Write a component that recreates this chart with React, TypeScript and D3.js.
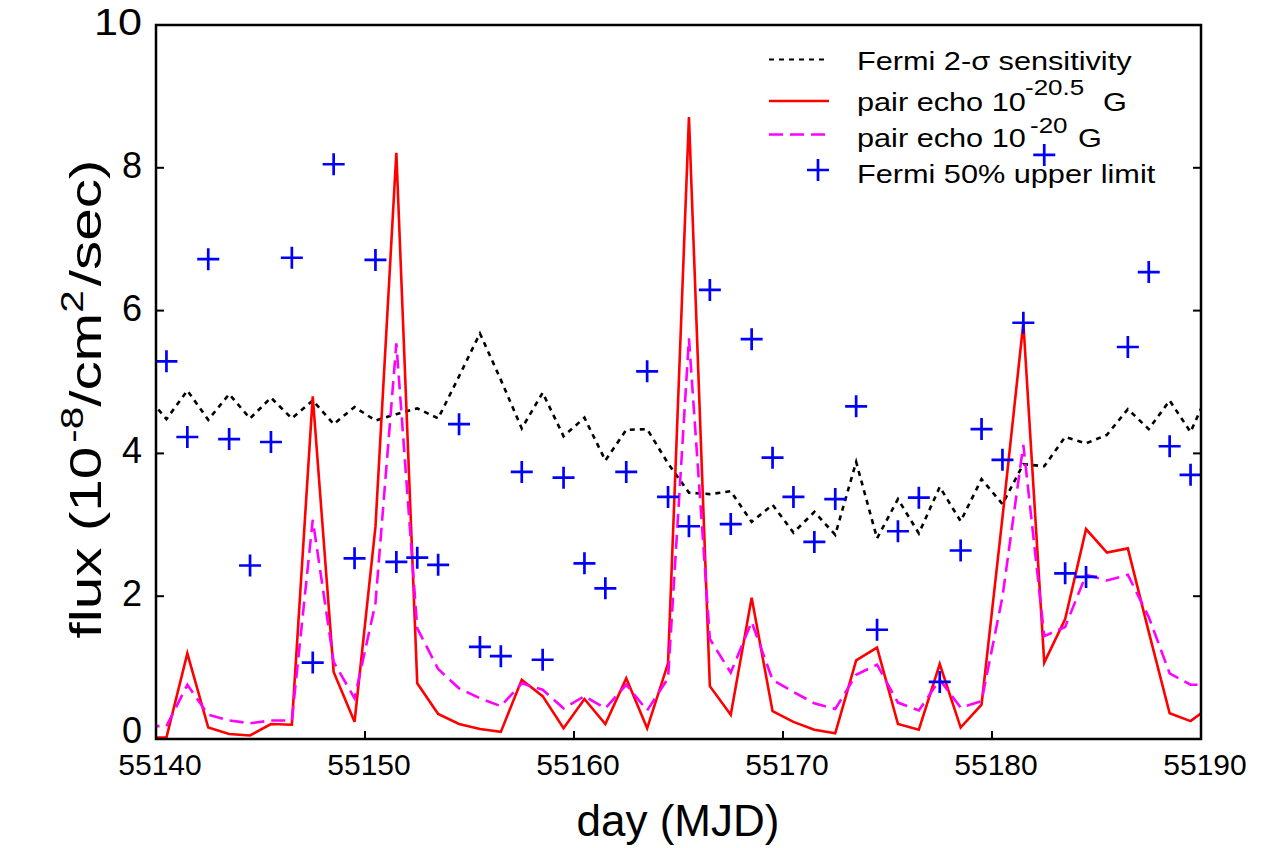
import React from "react";
import * as d3 from "d3";

// half-day bins (MJD)
const days = [
  55139.5, 55140.5, 55141.5, 55142.5, 55143.5, 55144.5, 55145.5, 55146.5, 55147.5, 55148.5,
  55149.5, 55150.5, 55151.5, 55152.5, 55153.5, 55154.5, 55155.5, 55156.5, 55157.5, 55158.5,
  55159.5, 55160.5, 55161.5, 55162.5, 55163.5, 55164.5, 55165.5, 55166.5, 55167.5, 55168.5,
  55169.5, 55170.5, 55171.5, 55172.5, 55173.5, 55174.5, 55175.5, 55176.5, 55177.5, 55178.5,
  55179.5, 55180.5, 55181.5, 55182.5, 55183.5, 55184.5, 55185.5, 55186.5, 55187.5, 55188.5,
  55189.5, 55190.5,
];

// Fermi 2-sigma sensitivity
const sensitivity = [
  4.83, 4.48, 4.88, 4.47, 4.83, 4.49, 4.78, 4.49, 4.74, 4.41,
  4.65, 4.46, 4.55, 4.63, 4.49, 5.08, 5.68, 5.03, 4.35, 4.85,
  4.24, 4.5, 3.9, 4.33, 4.34, 3.86, 3.45, 3.43, 3.47, 3.04,
  3.28, 2.89, 3.18, 2.86, 3.88, 2.81, 3.36, 2.88, 3.53, 3.05,
  3.64, 3.29, 3.85, 3.82, 4.23, 4.14, 4.26, 4.62, 4.34, 4.74,
  4.3, 4.95,
];

// pair echo B = 10^-20.5 G
const echo205 = [
  0.02, 0.02, 1.2, 0.16, 0.07, 0.05, 0.21, 0.2, 4.8, 0.94,
  0.24, 2.97, 8.21, 0.78, 0.35, 0.21, 0.14, 0.1, 0.83, 0.6,
  0.15, 0.56, 0.21, 0.85, 0.15, 1.06, 8.71, 0.74, 0.34, 1.98,
  0.39, 0.24, 0.13, 0.08, 1.1, 1.28, 0.21, 0.13, 1.05, 0.16,
  0.48, 3.1, 5.83, 1.07, 1.68, 2.94, 2.61, 2.67, 1.5, 0.36,
  0.25, 0.47,
];

// pair echo B = 10^-20 G
const echo20 = [
  0.18, 0.18, 0.76, 0.34, 0.26, 0.22, 0.26, 0.26, 3.07, 1.08,
  0.57, 1.9, 5.54, 1.55, 0.98, 0.71, 0.57, 0.46, 0.78, 0.69,
  0.43, 0.6, 0.43, 0.76, 0.4, 0.85, 5.61, 1.4, 0.93, 1.64,
  0.83, 0.66, 0.5, 0.42, 0.9, 1.04, 0.51, 0.4, 0.83, 0.44,
  0.53, 1.99, 4.12, 1.44, 1.57, 2.3, 2.22, 2.3, 1.71, 0.92,
  0.76, 0.76,
];

// Fermi 50% upper limit, days 55140.5 ... 55189.5
const ulDays = days.slice(1, 51);
const upperLimit: (number | null)[] = [
  5.29, 4.23, 6.72, 4.2, 2.43, 4.16, 6.74, 1.07, 8.05, 2.53,
  6.71, 2.48, 2.54, 2.44, 4.41, 1.29, 1.16, 3.74, 1.11, 3.66,
  2.46, 2.11, 3.74, 5.15, 3.39, 2.98, 6.29, 3.01, 5.6, 3.94,
  3.39, 2.76, 3.36, 4.66, 1.53, 2.91, 3.38, 0.8, 2.64, 4.34,
  3.91, 5.83, 8.18, 2.32, 2.27, null, 5.49, 6.54, 4.1, 3.7,
];

const xTicks = [55140, 55150, 55160, 55170, 55180, 55190];
const yTicks = [0, 2, 4, 6, 8, 10];

const FONT = "'Liberation Sans', Arial, Helvetica, sans-serif";

export default function App() {
  const W = 1265;
  const H = 848;
  const L = 156, R = 1201, T = 25, B = 739;
  const x = d3.scaleLinear().domain([55140, 55190]).range([L, R]);
  const y = d3.scaleLinear().domain([0, 10]).range([B, T]);
  const mkLine = (vals: number[]) =>
    d3.line<number>().x((_, i) => x(days[i])).y((v) => y(v))(vals) || "";

  const plus = (cx: number, cy: number, s: number) =>
    `M${cx - s},${cy}H${cx + s}M${cx},${cy - s}V${cy + s}`;

  const lw = 2.6;
  const lgX = 857;
  const lgS = 1.18;

  return (
    <svg
      width={W}
      height={H}
      viewBox={`0 0 ${W} ${H}`}
      style={{ position: "absolute", left: 0, top: 0, background: "#fff" }}
      fontFamily={FONT}
    >
      <defs>
        <clipPath id="plotclip">
          <rect x={L} y={T} width={R - L} height={B - T} />
        </clipPath>
      </defs>
      <rect x={0} y={0} width={W} height={H} fill="#fff" />

      <g clipPath="url(#plotclip)" fill="none">
        <path d={mkLine(sensitivity)} stroke="#000" strokeWidth={lw} strokeDasharray="5,5" />
        <path d={mkLine(echo205)} stroke="#ff0000" strokeWidth={lw} strokeLinejoin="miter" />
        <path d={mkLine(echo20)} stroke="#ff00ff" strokeWidth={lw} strokeDasharray="14,7" />
        <path
          d={ulDays
            .map((d, i) => (upperLimit[i] == null ? "" : plus(x(d), y(upperLimit[i] as number), 11)))
            .join("")}
          stroke="#0000ff"
          strokeWidth={2.7}
        />
      </g>

      {/* frame */}
      <rect x={L} y={T} width={R - L} height={B - T} fill="none" stroke="#000" strokeWidth={2.5} />
      {/* ticks */}
      {yTicks.map((t) => (
        <g key={"y" + t}>
          <line x1={L} x2={L + 8} y1={y(t)} y2={y(t)} stroke="#000" strokeWidth={2} />
          <line x1={R - 8} x2={R} y1={y(t)} y2={y(t)} stroke="#000" strokeWidth={2} />
          <text
            x={142}
            y={y(t) + (t === 0 ? 4 : 10)}
            fontSize={36}
            textAnchor="end"
            fill="#000"
            {...(t >= 10 ? { textLength: 48, lengthAdjust: "spacingAndGlyphs" } : {})}
          >
            {t}
          </text>
        </g>
      ))}
      {xTicks.map((t) => (
        <g key={"x" + t}>
          <line x1={x(t)} x2={x(t)} y1={B} y2={B - 8} stroke="#000" strokeWidth={2} />
          <text x={x(t) + 4} y={775} fontSize={30} textAnchor="middle" fill="#000">
            {t}
          </text>
        </g>
      ))}

      {/* axis titles */}
      <text x={678} y={836} fontSize={44} textAnchor="middle" fill="#000">
        day (MJD)
      </text>
      <g transform="translate(101,399) rotate(-90) scale(1.3,1)">
        <text x={0} y={0} fontSize={45} textAnchor="middle" fill="#000">
          flux (10
          <tspan dy={-18} dx={3} fontSize={31}>-8</tspan>
          <tspan dy={18}>/cm</tspan>
          <tspan dy={-18} fontSize={31}>2</tspan>
          <tspan dy={18} dx={3}>/sec)</tspan>
        </text>
      </g>

      {/* legend */}
      <line x1={769} x2={826} y1={59.5} y2={59.5} stroke="#000" strokeWidth={2.2} strokeDasharray="5,5" />
      <line x1={769} x2={829} y1={101} y2={101} stroke="#ff0000" strokeWidth={2.4} />
      <line x1={769} x2={826} y1={134.5} y2={134.5} stroke="#ff00ff" strokeWidth={2.4} strokeDasharray="14,7" />
      <path d={plus(818, 170, 11)} stroke="#0000ff" strokeWidth={2.7} fill="none" />
      <g transform={`translate(${lgX},0) scale(${lgS},1)`} fontSize={26} fill="#000">
        <text x={0} y={70}>Fermi 2-σ sensitivity</text>

        <text x={0} y={111}>pair echo 10</text>
        <text x={(1025 - lgX) / lgS} y={95} fontSize={22}>-20.5</text>
        <text x={(1103 - lgX) / lgS} y={111}>G</text>

        <text x={0} y={147}>pair echo 10</text>
        <text x={(1030 - lgX) / lgS} y={133} fontSize={22}>-20</text>
        <text x={(1078 - lgX) / lgS} y={147}>G</text>

        <text x={0} y={183}>Fermi 50% upper limit</text>
      </g>
    </svg>
  );
}
